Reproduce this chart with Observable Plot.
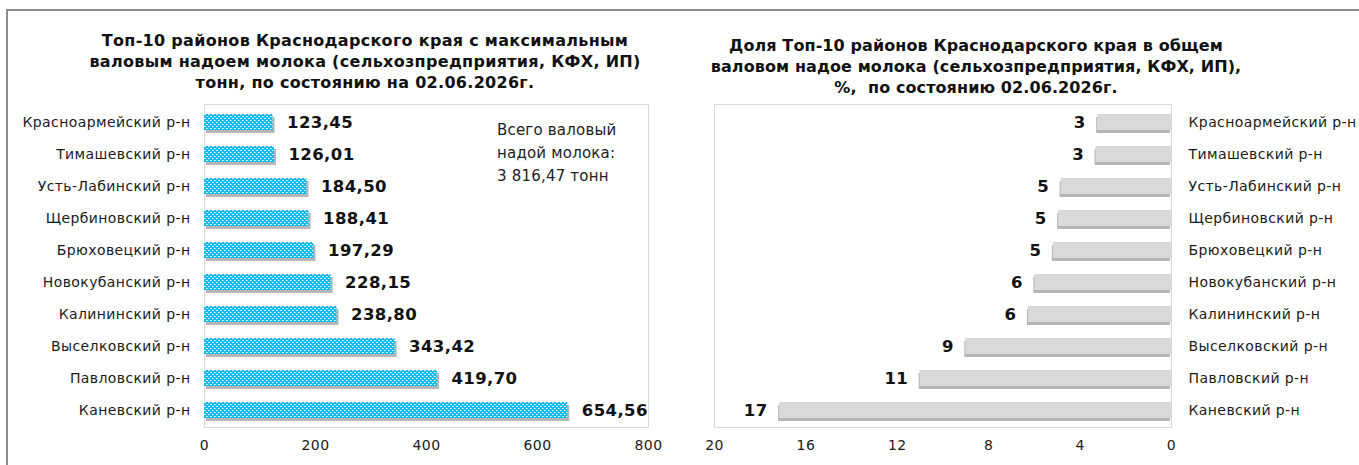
<!DOCTYPE html>
<html><head><meta charset="utf-8">
<script src="https://cdn.jsdelivr.net/npm/d3@7"></script>
<script src="https://cdn.jsdelivr.net/npm/@observablehq/plot@0.6"></script>
<style>
html,body{margin:0;padding:0;background:#fff;}
body{width:1359px;height:465px;position:relative;overflow:hidden;font-family:"DejaVu Sans",sans-serif;color:#1a1a1a;}
.frame{position:absolute;left:6px;top:9px;width:1400px;height:500px;border-top:2px solid #8c8c8c;border-left:2px solid #8c8c8c;}
.title{position:absolute;text-align:center;font-weight:bold;font-size:16px;letter-spacing:0.3px;line-height:21px;color:#111;white-space:nowrap;}
.note{position:absolute;font-size:15px;letter-spacing:0.2px;line-height:23px;color:#222;white-space:nowrap;}
#c1,#c2{position:absolute;top:94px;}
#c1{left:0;} #c2{left:680px;}
#c1 svg text, #c2 svg text{letter-spacing:0.4px;}
</style></head>
<body>
<div class="frame"></div>
<div class="title" style="left:65px;width:600px;top:30px;">Топ-10 районов Краснодарского края с максимальным<br>валовым надоем молока (сельхозпредприятия, КФХ, ИП)<br>тонн, по состоянию на 02.06.2026г.</div>
<div class="title" style="left:676px;width:600px;top:35px;letter-spacing:0.1px;">Доля Топ-10 районов Краснодарского края в общем<br>валовом надое молока (сельхозпредприятия, КФХ, ИП),<br>%,&nbsp; по состоянию 02.06.2026г.</div>
<div id="c1"></div>
<div id="c2"></div>
<div class="note" style="left:497px;top:119px;">Всего валовый<br>надой молока:<br>3 816,47 тонн</div>
<script>
const districts = ["Красноармейский р-н","Тимашевский р-н","Усть-Лабинский р-н","Щербиновский р-н","Брюховецкий р-н","Новокубанский р-н","Калининский р-н","Выселковский р-н","Павловский р-н","Каневский р-н"];
const milkTonnes = [123.45,126.01,184.50,188.41,197.29,228.15,238.80,343.42,419.70,654.56];
const sharePct = [3.23,3.30,4.83,4.94,5.17,5.98,6.26,9.00,11.00,17.15];
const shareLabels = ["3","3","5","5","5","6","6","9","11","17"];
const leftTicks = [0,200,400,600,800];
const rightTicks = [0,4,8,12,16,20];

const leftData = districts.map((d,i)=>({d, v: milkTonnes[i], label: milkTonnes[i].toFixed(2).replace(".", ",")}));
const rightData = districts.map((d,i)=>({d, v: sharePct[i], label: shareLabels[i]}));

const fontStyle = {fontFamily:'"DejaVu Sans",sans-serif', fontSize:"14px", color:"#1a1a1a", background:"transparent", overflow:"visible"};
const yScale = {domain: districts, paddingInner:0.5, paddingOuter:0.25, label:null};

const left = Plot.plot({
  width:680, height:370, marginLeft:204, marginRight:32, marginTop:10, marginBottom:37,
  style: fontStyle,
  x: {domain:[0,800], label:null},
  y: yScale,
  marks: [
    Plot.frame({stroke:"#d9d9d9"}),
    Plot.barX(leftData, {x:"v", y:"d", fill:"#6e6e6e", fillOpacity:0.5, dx:2, dy:3}),
    Plot.barX(leftData, {x:"v", y:"d", fill:"url(#dotsPattern)"}),
    Plot.text(leftData, {x:"v", y:"d", text:"label", dx:14, textAnchor:"start", fontWeight:"bold", fontSize:16.5, fill:"#111"}),
    Plot.axisX({ticks:leftTicks, tickSize:0, tickPadding:13, tickFormat:d=>String(d), label:null}),
    Plot.axisY({tickSize:0, tickPadding:14, label:null})
  ]
});
const defs = d3.select(left).insert("defs", ":first-child");
const pat = defs.append("pattern").attr("id","dotsPattern").attr("patternUnits","userSpaceOnUse").attr("width",4).attr("height",4);
pat.append("rect").attr("width",4).attr("height",4).attr("fill","#0fbcf8");
pat.append("rect").attr("x",0).attr("y",0).attr("width",1).attr("height",1).attr("fill","#ffffff");
pat.append("rect").attr("x",2).attr("y",2).attr("width",1).attr("height",1).attr("fill","#ffffff");
pat.append("rect").attr("x",1).attr("y",0).attr("width",1).attr("height",1).attr("fill","#a6e6fc");
pat.append("rect").attr("x",3).attr("y",2).attr("width",1).attr("height",1).attr("fill","#a6e6fc");
document.getElementById("c1").appendChild(left);

const right = Plot.plot({
  width:679, height:370, marginLeft:34, marginRight:188, marginTop:10, marginBottom:37,
  style: fontStyle,
  x: {domain:[0,20], reverse:true, label:null},
  y: yScale,
  marks: [
    Plot.frame({stroke:"#d9d9d9"}),
    Plot.barX(rightData, {x:"v", y:"d", fill:"#6e6e6e", fillOpacity:0.5, dx:-1, dy:3}),
    Plot.barX(rightData, {x:"v", y:"d", fill:"#d9d9d9"}),
    Plot.text(rightData, {x:"v", y:"d", text:"label", dx:-12, textAnchor:"end", fontWeight:"bold", fontSize:16.5, fill:"#111"}),
    Plot.axisX({ticks:rightTicks, tickSize:0, tickPadding:13, tickFormat:d=>String(d), label:null}),
    Plot.axisY({anchor:"right", tickSize:0, tickPadding:17, label:null})
  ]
});
document.getElementById("c2").appendChild(right);
</script>
</body></html>
